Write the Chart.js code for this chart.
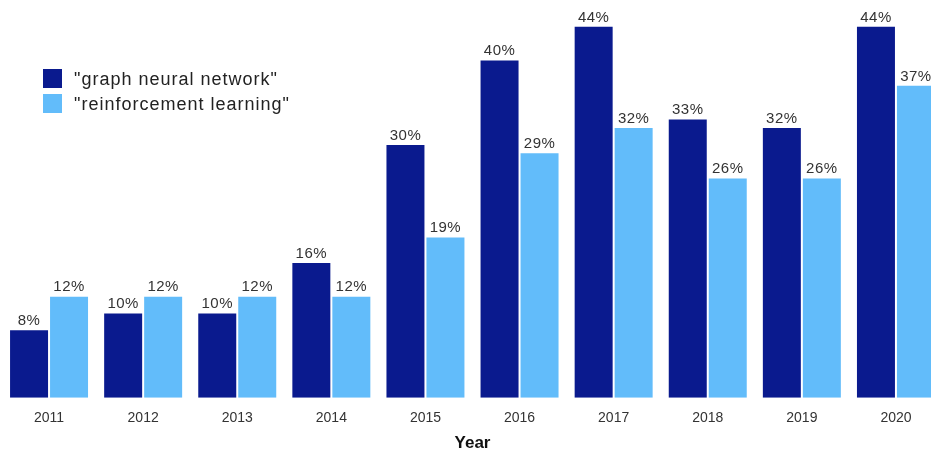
<!DOCTYPE html>
<html>
<head>
<meta charset="utf-8">
<script src="https://cdn.jsdelivr.net/npm/chart.js@4"></script>
<style>
  html, body { margin: 0; padding: 0; background: #fff; overflow: hidden; }
  #wrap { position: relative; width: 945px; height: 454px; }
</style>
</head>
<body>
<div id="wrap"><canvas id="chart"></canvas></div>
<script>
  // years on the x axis
  var years = ['2011', '2012', '2013', '2014', '2015', '2016', '2017', '2018', '2019', '2020'];
  // share per year, in percent
  var gnnValues = [8, 10, 10, 16, 30, 40, 44, 33, 32, 44];
  var rlValues = [12, 12, 12, 12, 19, 29, 32, 26, 26, 37];
  var seriesNames = ['"graph neural network"', '"reinforcement learning"'];
  var seriesColors = ['#0a1a8e', '#62bcfa'];

  // draws the value above every bar
  var valueLabels = {
    id: 'valueLabels',
    afterDatasetsDraw: function(chart) {
      var ctx = chart.ctx;
      ctx.save();
      ctx.font = '15px "Liberation Sans", Arial, sans-serif';
      ctx.letterSpacing = '0.5px';
      ctx.fillStyle = '#333';
      ctx.textAlign = 'center';
      ctx.textBaseline = 'bottom';
      chart.data.datasets.forEach(function(ds, i) {
        chart.getDatasetMeta(i).data.forEach(function(bar, j) {
          ctx.fillText(ds.data[j] + '%', bar.x, bar.y - 2);
        });
      });
      ctx.restore();
    }
  };

  // legend inside the plot, top left
  var insideLegend = {
    id: 'insideLegend',
    afterDraw: function(chart) {
      var ctx = chart.ctx;
      var area = chart.chartArea;
      var x = area.left + 41, y = area.top + 59;
      ctx.save();
      ctx.font = '18px "Liberation Sans", Arial, sans-serif';
      ctx.letterSpacing = '1px';
      ctx.textBaseline = 'middle';
      chart.data.datasets.forEach(function(ds, i) {
        ctx.fillStyle = ds.backgroundColor;
        ctx.fillRect(x, y + i * 25, 19, 19);
        ctx.fillStyle = '#222';
        ctx.fillText(ds.label, x + 31, y + i * 25 + 11);
      });
      ctx.restore();
    }
  };

  new Chart(document.getElementById('chart'), {
    type: 'bar',
    data: {
      labels: years,
      datasets: [{
        label: seriesNames[0],
        data: gnnValues,
        backgroundColor: seriesColors[0]
      }, {
        label: seriesNames[1],
        data: rlValues,
        backgroundColor: seriesColors[1]
      }]
    },
    options: {
      responsive: true,
      maintainAspectRatio: false,
      animation: false,
      datasets: {
        bar: { categoryPercentage: 0.85, barPercentage: 0.95 }
      },
      layout: { padding: { left: 2, right: 2, top: 10, bottom: 0 } },
      plugins: {
        legend: { display: false },
        tooltip: { enabled: false }
      },
      scales: {
        x: {
          grid: { display: false },
          border: { display: false },
          ticks: {
            color: '#333',
            padding: 4,
            font: { family: '"Liberation Sans", Arial, sans-serif', size: 14 }
          },
          title: {
            display: true,
            text: 'Year',
            color: '#111',
            padding: { top: 3, bottom: 0 },
            font: { family: '"Liberation Sans", Arial, sans-serif', size: 17, weight: 'bold' }
          }
        },
        y: {
          display: false,
          min: 0,
          max: 46
        }
      }
    },
    plugins: [valueLabels, insideLegend]
  });
</script>
</body>
</html>
